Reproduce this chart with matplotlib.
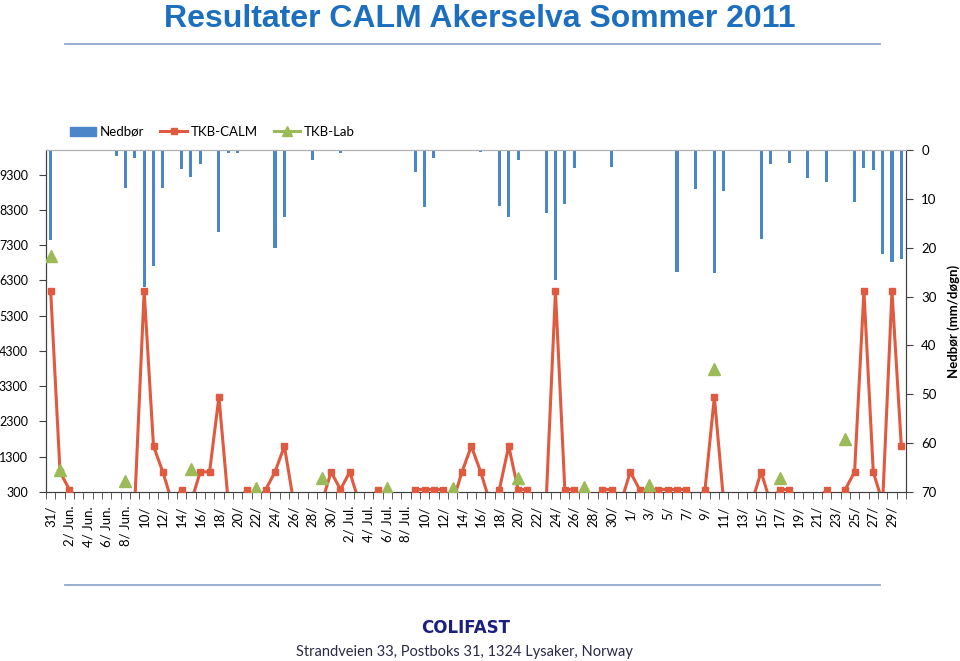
import numpy as np
import matplotlib
matplotlib.use('Agg')
import matplotlib.pyplot as plt
from matplotlib.lines import Line2D
from matplotlib.patches import Patch

plt.rcParams['font.family'] = ['Lato', 'DejaVu Sans']

# 92 days, 31 May - 30 Aug 2011
day_labels = [
    '31/', '', '2/ Jun.', '', '4/ Jun.', '', '6/ Jun.', '', '8/ Jun.', '',
    '10/', '', '12/', '', '14/', '', '16/', '', '18/', '',
    '20/', '', '22/', '', '24/', '', '26/', '', '28/', '',
    '30/', '', '2/ Jul.', '', '4/ Jul.', '', '6/ Jul.', '', '8/ Jul.', '',
    '10/', '', '12/', '', '14/', '', '16/', '', '18/', '',
    '20/', '', '22/', '', '24/', '', '26/', '', '28/', '',
    '30/', '', '1/', '', '3/', '', '5/', '', '7/', '',
    '9/', '', '11/', '', '13/', '', '15/', '', '17/', '',
    '19/', '', '21/', '', '23/', '', '25/', '', '27/', '',
    '29/', '',
]

# precipitation, mm/day
nedbor = [
    18.4, 0, 0, 0, 0, 0, 0, 1.3, 7.8, 1.7,
    28.0, 23.7, 7.8, 0, 3.9, 5.6, 2.9, 0.3, 16.7, 0.6,
    0.6, 0.3, 0.2, 0, 20.0, 13.7, 0, 0.2, 2.1, 0,
    0, 0.6, 0.3, 0.1, 0.1, 0.2, 0, 0, 0, 4.6,
    11.7, 1.7, 0, 0, 0, 0, 0.5, 0, 11.5, 13.7,
    2.0, 0, 0, 12.8, 26.7, 11.1, 3.7, 0.2, 0, 0,
    3.4, 0, 0, 0, 0, 0, 0.1, 25.0, 0, 8.0,
    0, 25.1, 8.3, 0, 0, 0, 18.2, 2.8, 0, 2.6,
    0, 5.8, 0, 6.5, 0, 0, 10.7, 3.7, 4.1, 21.2,
    23.0, 22.3,
]

# TKB-CALM
tkb_calm = [
    6000, 870, 370, 0, 0, 0, 0, 0, 0, 0,
    6000, 1600, 870, 0, 370, 0, 870, 870, 3000, 0,
    0, 370, 0, 370, 870, 1600, 0, 0, 0, 0,
    870, 370, 870, 0, 0, 370, 0, 0, 0, 370,
    370, 370, 370, 0, 870, 1600, 870, 0, 370, 1600,
    370, 370, 0, 0, 6000, 370, 370, 0, 0, 370,
    370, 0, 870, 370, 370, 370, 370, 370, 370, 0,
    370, 3000, 0, 0, 0, 0, 870, 0, 370, 370,
    0, 0, 0, 370, 0, 370, 870, 6000, 870, 0,
    6000, 1600,
]

# TKB-Lab, weekly samples
lab_days = [0, 1, 8, 15, 22, 29, 36, 43, 50, 57, 64, 71, 78, 85]
tkb_lab = [7000, 920, 600, 950, 400, 700, 400, 400, 700, 450, 500, 3800, 700, 1800]

blue = '#4A86C8'
red = '#DF5A3E'
green = '#9BBB59'

x = np.arange(len(nedbor))

fig = plt.figure(figsize=(9.6, 6.61), dpi=100)
ax = fig.add_axes([46 / 960, 1 - 492 / 661, 860 / 960, 342 / 661])
ax2 = ax.twinx()
ax.set_zorder(ax2.get_zorder() + 1)
ax.patch.set_visible(False)

# bars hanging from the top
ax2.bar(x, nedbor, width=0.33, color=blue, zorder=2)
ax2.set_ylim(70, 0)
ax2.set_yticks(np.arange(0, 71, 10))
ax2.set_ylabel('Nedbør (mm/døgn)', fontsize=9.5, fontweight='bold', labelpad=8)

ax.plot(x, tkb_calm, color=red, lw=2.2, marker='s', ms=5, zorder=3)
ax.plot(lab_days, tkb_lab, color=green, lw=0, marker='^', ms=8, zorder=4)
ax.set_ylim(300, 10000)
ax.set_yticks(np.arange(300, 9301, 1000))
ax.set_xlim(-0.5, len(nedbor) - 0.5)
ax.set_xticks(x)
ax.set_xticklabels(day_labels, rotation=90, va='top', fontsize=9.5)
ax.set_xticks(np.arange(-0.5, len(nedbor)), minor=True)
ax.tick_params(axis='x', which='major', length=0, pad=10)
ax.tick_params(axis='x', which='minor', length=5, color='#404040')
ax.tick_params(axis='y', length=5, color='#404040', labelsize=9, pad=8)
ax2.tick_params(axis='y', length=5, color='#404040', labelsize=9.5, pad=6)

for a in (ax, ax2):
    for s in ('left', 'right', 'bottom'):
        a.spines[s].set_color('#404040')
    a.spines['top'].set_color('#B0B0B0')

handles = [
    Patch(color=blue),
    Line2D([], [], color=red, lw=2.2, marker='s', ms=5),
    Line2D([], [], color=green, lw=2.2, marker='^', ms=7),
]
fig.legend(handles, ['Nedbør', 'TKB-CALM', 'TKB-Lab'], loc='center left',
           bbox_to_anchor=(58 / 960, 1 - 132 / 661), ncol=3, frameon=False,
           fontsize=9.5, handlelength=2.0, handletextpad=0.3, columnspacing=1.2)

fig.text(0.5, 1 - 19 / 661, 'Resultater CALM Akerselva Sommer 2011',
         ha='center', va='center', fontsize=23, fontweight='bold', color='#1C6EBF',
         family=['Liberation Sans', 'DejaVu Sans'])
fig.add_artist(Line2D([65 / 960, 880 / 960], [1 - 44 / 661] * 2, color='#8EA9CF', lw=1.3))
fig.add_artist(Line2D([65 / 960, 880 / 960], [1 - 585 / 661] * 2, color='#8EA9CF', lw=1.3))

fig.text(466 / 960, 1 - 628 / 661, 'COLIFAST', ha='center', va='center',
         fontsize=12, fontweight='heavy', color='#1B1F7E', family='DejaVu Sans')
fig.text(464 / 960, 1 - 652 / 661, 'Strandveien 33, Postboks 31, 1324 Lysaker, Norway',
         ha='center', va='center', fontsize=10.5, color='#2A2A4A')

plt.savefig('out.png')
